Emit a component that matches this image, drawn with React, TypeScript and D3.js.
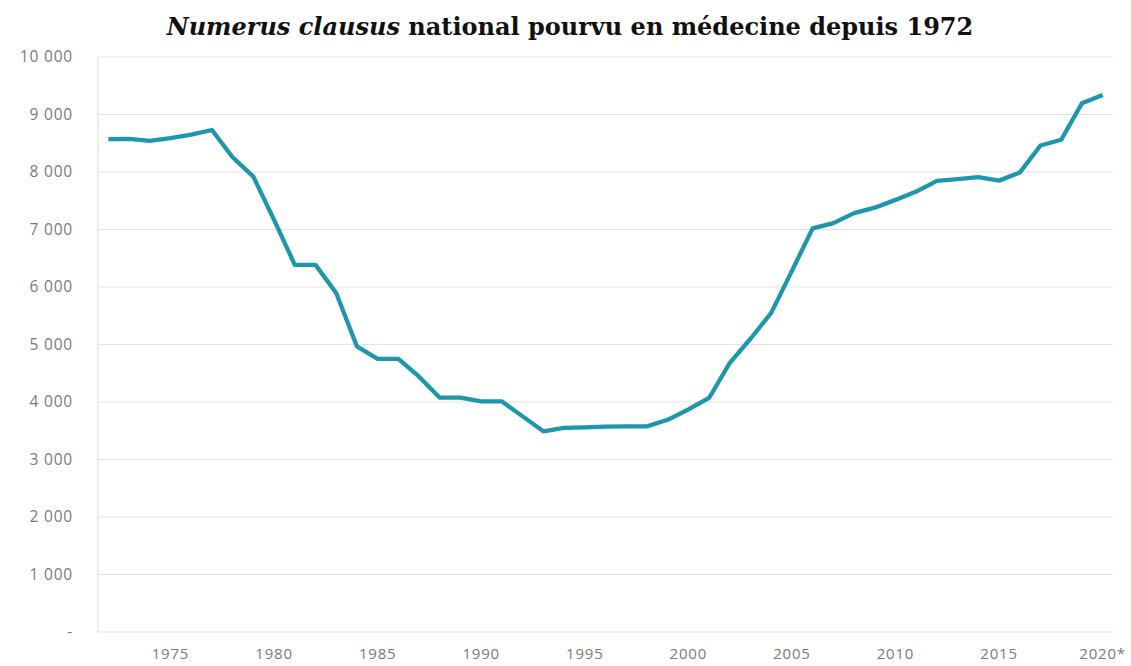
import React, { useEffect, useRef } from "react";
import * as d3 from "d3";

// Numerus clausus, 1972 -> 2020
const years: number[] = d3.range(1972, 2021);
const values: number[] = [
  8570, 8575, 8540, 8590, 8650, 8730, 8257, 7920, 7168, 6385,
  6385, 5894, 4966, 4750, 4750, 4440, 4075, 4075, 4010, 4010,
  3750, 3490, 3550, 3560, 3570, 3576, 3576, 3690, 3870, 4070,
  4680, 5100, 5550, 6280, 7020, 7110, 7285, 7380, 7515, 7660,
  7845, 7875, 7910, 7850, 7990, 8460, 8560, 9195, 9340,
];
const yTicks: number[] = [0, 1000, 2000, 3000, 4000, 5000, 6000, 7000, 8000, 9000, 10000];
const xTickYears: number[] = [1975, 1980, 1985, 1990, 1995, 2000, 2005, 2010, 2015, 2020];

const W = 1131;
const H = 666;
const margin = { top: 57, right: 18, bottom: 34, left: 98 };

export default function App() {
  const svgRef = useRef<SVGSVGElement>(null);

  useEffect(() => {
    const svg = d3.select(svgRef.current);
    svg.selectAll("*").remove();

    const x = d3.scaleBand<number>()
      .domain(years)
      .range([margin.left, W - margin.right]);
    const y = d3.scaleLinear()
      .domain([0, 10000])
      .range([H - margin.bottom, margin.top]);

    const labelColor = "#7a7a7a";
    const font = "'Open Sans', 'Noto Sans', sans-serif";

    // Title
    const title = svg.append("text")
      .attr("x", 570)
      .attr("y", 35)
      .attr("text-anchor", "middle")
      .attr("font-family", "'DejaVu Serif', 'Liberation Serif', serif")
      .attr("font-weight", "bold")
      .attr("font-size", 24)
      .attr("fill", "#111");
    title.append("tspan").attr("font-style", "italic").text("Numerus clausus");
    title.append("tspan").text(" national pourvu en médecine depuis 1972");

    // Gridlines
    svg.append("g")
      .selectAll("line")
      .data(yTicks)
      .join("line")
      .attr("x1", margin.left)
      .attr("x2", W - margin.right)
      .attr("y1", d => y(d))
      .attr("y2", d => y(d))
      .attr("stroke", "#e3e3e3")
      .attr("stroke-width", 1.2);

    // left axis line
    svg.append("line")
      .attr("x1", margin.left)
      .attr("x2", margin.left)
      .attr("y1", y(10000))
      .attr("y2", y(0))
      .attr("stroke", "#e3e3e3")
      .attr("stroke-width", 1.2);

    // Y labels
    svg.append("g")
      .selectAll("text")
      .data(yTicks)
      .join("text")
      .attr("x", 73)
      .attr("y", d => y(d))
      .attr("dy", "0.35em")
      .attr("text-anchor", "end")
      .attr("font-family", font)
      .attr("font-size", 15.5)
      .attr("letter-spacing", 0.8)
      .attr("fill", labelColor)
      .text(d => d === 0 ? "-" : d3.format(",")(d).replace(",", " "));

    // X labels
    svg.append("g")
      .selectAll("text")
      .data(xTickYears)
      .join("text")
      .attr("x", d => (x(d) ?? 0) + x.bandwidth() / 2)
      .attr("y", 659)
      .attr("text-anchor", "middle")
      .attr("font-family", font)
      .attr("font-size", 15)
      .attr("letter-spacing", 0.8)
      .attr("fill", labelColor)
      .text(d => d === 2020 ? "2020*" : String(d));

    // Line
    const line = d3.line<number>()
      .x((_, i) => (x(years[i]) ?? 0) + x.bandwidth() / 2)
      .y(d => y(d));

    svg.append("path")
      .datum(values)
      .attr("fill", "none")
      .attr("stroke", "#1e96ad")
      .attr("stroke-width", 4.3)
      .attr("stroke-linejoin", "round")
      .attr("d", line);
  }, []);

  return (
    <svg
      ref={svgRef}
      width={W}
      height={H}
      style={{ position: "absolute", top: 0, left: 0, background: "#fff" }}
    />
  );
}
